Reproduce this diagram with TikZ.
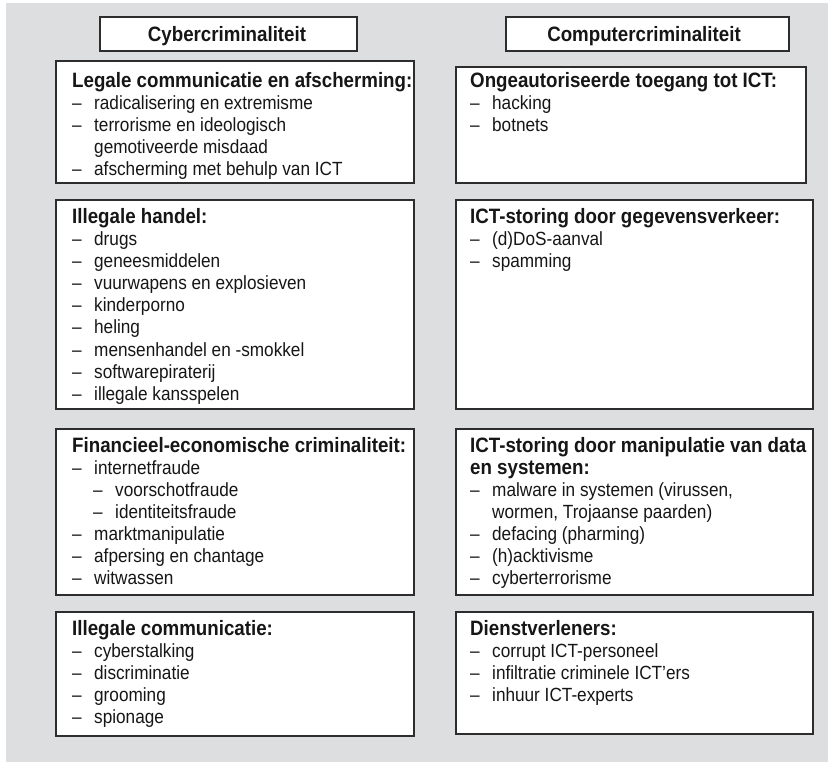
\documentclass[tikz,border=0pt]{standalone}
\usepackage{fontspec}
\setmainfont{Liberation Sans}[FakeStretch=0.9]
\definecolor{bggray}{RGB}{221,222,224}
\definecolor{edge}{RGB}{45,45,45}
\definecolor{ink}{RGB}{22,22,22}
\newcommand{\dsh}{\makebox[22pt][l]{–}}
\newcommand{\sub}{\hspace*{21pt}\makebox[22pt][l]{–}}
\newcommand{\cont}{\hspace*{22pt}}
\tikzset{
  panel/.style={draw=edge, line width=1.3pt, fill=white, anchor=north west, inner sep=0pt, outer sep=0pt},
  hdtxt/.style={anchor=base, inner sep=0pt, text=ink, font=\fontsize{20.8}{22}\selectfont\bfseries},
  ttl/.style={anchor=base west, inner sep=0pt, text=ink, font=\fontsize{20.8}{22}\selectfont\bfseries},
  itm/.style={anchor=base west, inner sep=0pt, text=ink, font=\fontsize{19.1}{22}\selectfont},
}
\begin{document}
\begin{tikzpicture}[x=1pt,y=-1pt]
\useasboundingbox (0,0) rectangle (828,762);
\fill[bggray] (6,3) rectangle (828,762);

% headers
\node[panel, minimum width=257pt, minimum height=34pt] (H1) at (100,17) {};
\node[panel, minimum width=283pt, minimum height=34pt] (H2) at (506,17) {};
\node[hdtxt] (h1t) at (227,41.5) {Cybercriminaliteit};
\node[hdtxt] (h2t) at (644,41.5) {Computercriminaliteit};

% left column boxes
\node[panel, minimum width=358pt, minimum height=122pt] (L1) at (56,61) {};
\node[panel, minimum width=358pt, minimum height=209pt] (L2) at (56,200) {};
\node[panel, minimum width=358pt, minimum height=166pt] (L3) at (56,429) {};
\node[panel, minimum width=358pt, minimum height=124pt] (L4) at (56,612) {};

% right column boxes
\node[panel, minimum width=350pt, minimum height=116pt] (R1) at (456,67) {};
\node[panel, minimum width=357pt, minimum height=209pt] (R2) at (456,200) {};
\node[panel, minimum width=357pt, minimum height=166pt] (R3) at (456,429) {};
\node[panel, minimum width=357pt, minimum height=122pt] (R4) at (456,612) {};

% L1
\node[ttl] (l1t) at (72,87.5) {Legale communicatie en afscherming:};
\foreach \t [count=\i from 0] in {{\dsh radicalisering en extremisme},
  {\dsh terrorisme en ideologisch},{\cont gemotiveerde misdaad},
  {\dsh afscherming met behulp van ICT}}
  \node[itm] (l1i\i) at (72,109.5+22*\i) {\t};

% L2
\node[ttl] (l2t) at (72,224) {Illegale handel:};
\foreach \t [count=\i from 0] in {{\dsh drugs},{\dsh geneesmiddelen},
  {\dsh vuurwapens en explosieven},{\dsh kinderporno},{\dsh heling},
  {\dsh mensenhandel en -smokkel},{\dsh softwarepiraterij},{\dsh illegale kansspelen}}
  \node[itm] (l2i\i) at (72,246+22*\i) {\t};

% L3
\node[ttl] (l3t) at (72,452.5) {Financieel-economische criminaliteit:};
\foreach \t [count=\i from 0] in {{\dsh internetfraude},{\sub voorschotfraude},
  {\sub identiteitsfraude},{\dsh marktmanipulatie},{\dsh afpersing en chantage},
  {\dsh witwassen}}
  \node[itm] (l3i\i) at (72,474.5+22*\i) {\t};

% L4
\node[ttl] (l4t) at (72,635.5) {Illegale communicatie:};
\foreach \t [count=\i from 0] in {{\dsh cyberstalking},{\dsh discriminatie},
  {\dsh grooming},{\dsh spionage}}
  \node[itm] (l4i\i) at (72,657.5+22*\i) {\t};

% R1
\node[ttl] (r1t) at (470,87.5) {Ongeautoriseerde toegang tot ICT:};
\foreach \t [count=\i from 0] in {{\dsh hacking},{\dsh botnets}}
  \node[itm] (r1i\i) at (470,109.5+22*\i) {\t};

% R2
\node[ttl] (r2t) at (470,224) {ICT-storing door gegevensverkeer:};
\foreach \t [count=\i from 0] in {{\dsh (d)DoS-aanval},{\dsh spamming}}
  \node[itm] (r2i\i) at (470,246+22*\i) {\t};

% R3
\node[ttl] (r3t) at (470,452.5) {ICT-storing door manipulatie van data};
\node[ttl] (r3u) at (470,474.5) {en systemen:};
\foreach \t [count=\i from 0] in {{\dsh malware in systemen (virussen,},
  {\cont wormen, Trojaanse paarden)},{\dsh defacing (pharming)},
  {\dsh (h)acktivisme},{\dsh cyberterrorisme}}
  \node[itm] (r3i\i) at (470,496.5+22*\i) {\t};

% R4
\node[ttl] (r4t) at (470,635.5) {Dienstverleners:};
\foreach \t [count=\i from 0] in {{\dsh corrupt ICT-personeel},
  {\dsh infiltratie criminele ICT’ers},{\dsh inhuur ICT-experts}}
  \node[itm] (r4i\i) at (470,657.5+22*\i) {\t};
\end{tikzpicture}
\end{document}
